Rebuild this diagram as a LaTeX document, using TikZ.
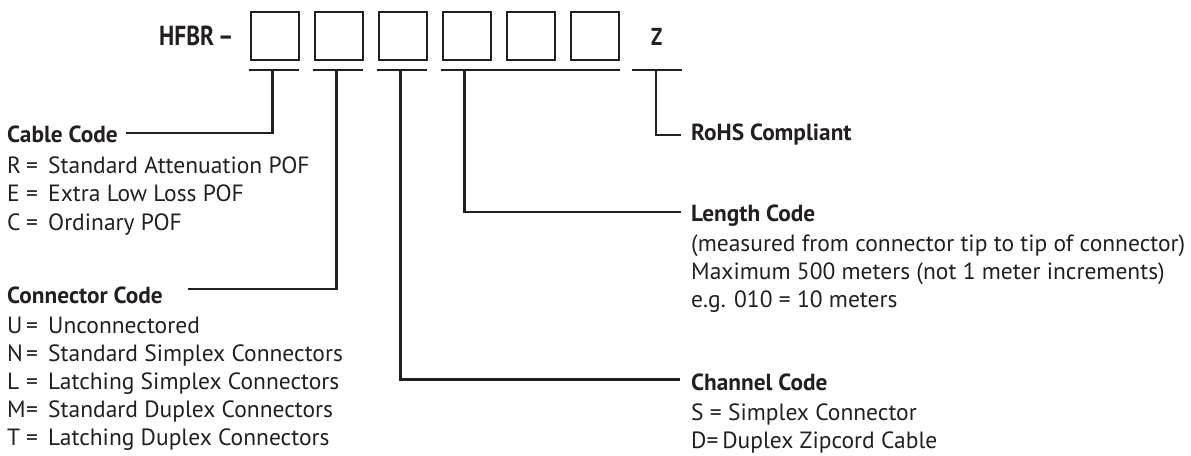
\documentclass[tikz,border=0pt]{standalone}
\usepackage{fontspec}
\setmainfont{PT Sans}
\newfontfamily\hfont[Ligatures=TeX,BoldFont={* Bold}]{PT Sans}
\newfontfamily\hcond[Ligatures=TeX,FakeStretch=0.85,BoldFont={* Bold}]{PT Sans}
\definecolor{ink}{HTML}{231F20}
\begin{document}
\begin{tikzpicture}[x=1pt,y=-1pt,
  ln/.style={draw=ink,line width=2.2pt},
  cbox/.style={draw=ink,line width=2.2pt,minimum width=48pt,minimum height=48pt,inner sep=0pt,anchor=north west},
  head/.style={anchor=base west,inner sep=0pt,text=ink,font=\hfont\bfseries\fontsize{23.3}{23}\selectfont},
  body/.style={anchor=base west,inner sep=0pt,text=ink,font=\fontsize{23.5}{28}\selectfont},
  big/.style={anchor=base west,inner sep=0pt,text=ink,font=\hcond\bfseries\fontsize{27.5}{27}\selectfont}]
\useasboundingbox (0,0) rectangle (1191,455);
% title
\node[big] (hfbr) at (159,45) {HFBR\hspace{4pt}–};
\node[big,font=\hcond\bfseries\fontsize{24.5}{24}\selectfont] (z) at (651,45) {Z};
% boxes
\foreach \i/\xx in {1/249.5,2/313.5,3/377.5,4/441.5,5/505.5,6/569.5}
  \node[cbox] (b\i) at (\xx,11) {};
% bars
\draw[ln] (248.5,70) -- (298.5,70);
\draw[ln] (312.5,70) -- (362.5,70);
\draw[ln] (376.5,70) -- (426.5,70);
\draw[ln] (440.5,70) -- (619.5,70);
\draw[ln] (632,70) -- (682,70);
\coordinate (t1) at (272.5,70);
\coordinate (t2) at (336.5,70);
\coordinate (t3) at (400.5,70);
\coordinate (t4) at (464.5,70);
\coordinate (tz) at (656,70);
% headings
\node[head] (cable) at (7,142) {Cable Code};
\node[head] (conn) at (7,303.5) {Connector Code};
\node[head] (rohs) at (691,140) {RoHS Compliant};
\node[head] (len) at (691,221.7) {Length Code};
\node[head] (chan) at (691,390.7) {Channel Code};
% connector ends
\coordinate (cableEnd) at (126,133);
\coordinate (connEnd) at (188,289);
\coordinate (rohsEnd) at (681,135);
\coordinate (lenEnd) at (681,211.7);
\coordinate (chanEnd) at (680,379.5);
\draw[ln] (t1) |- (cableEnd);
\draw[ln] (t2) |- (connEnd);
\draw[ln] (t3) |- (chanEnd);
\draw[ln] (t4) |- (lenEnd);
\draw[ln] (tz) |- (rohsEnd);
% body texts
\newcommand{\entry}[2]{\makebox[19pt][l]{#1}\makebox[22pt][l]{=}#2}
\node[body] (r) at (7,173) {\entry{R}{Standard Attenuation POF}};
\node[body] (e) at (7,201.5) {\entry{E}{Extra Low Loss POF}};
\node[body] (c) at (7,230) {\entry{C}{Ordinary POF}};
\node[body] (u) at (7,333) {\entry{U}{Unconnectored}};
\node[body] (n) at (7,361.3) {\entry{N}{Standard Simplex Connectors}};
\node[body] (l) at (7,389.6) {\entry{L}{Latching Simplex Connectors}};
\node[body] (m) at (7,417.2) {\entry{M}{Standard Duplex Connectors}};
\node[body] (t) at (7,445.5) {\entry{T}{Latching Duplex Connectors}};
\node[body] (l1) at (691,251) {(measured from connector tip to tip of connector)};
\node[body] (l2) at (691,279) {Maximum 500 meters (not 1 meter increments)};
\node[body] (l3) at (691,307) {e.g. 010 = 10 meters};
\node[body] (s) at (691,420) {S = Simplex Connector};
\node[body] (d) at (691,448) {D=\,Duplex Zipcord Cable};
\end{tikzpicture}
\end{document}
